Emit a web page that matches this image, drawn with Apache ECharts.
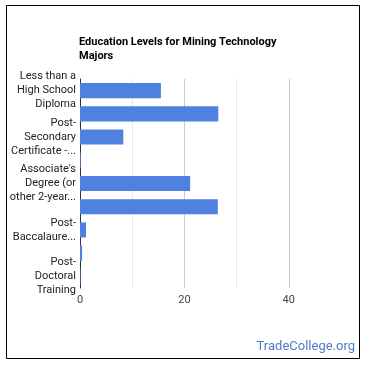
<!DOCTYPE html>
<html>
<head>
<meta charset="utf-8">
<script src="https://cdn.jsdelivr.net/npm/echarts@6/dist/echarts.min.js"></script>
<style>
html,body{margin:0;padding:0;background:#fff;}
#chart{width:370px;height:370px;}
</style>
</head>
<body>
<div id="chart"></div>
<script>
var categories = [
  "Less than a High School Diploma",
  "High School Diploma",
  "Post-Secondary Certificate - awarded for training completed after high school",
  "Some College Courses",
  "Associate's Degree (or other 2-year degree)",
  "Bachelor's Degree",
  "Post-Baccalaureate Certificate",
  "Master's Degree",
  "Post-Doctoral Training"
];
var tickLabels = [
  "Less than a\nHigh School\nDiploma",
  "",
  "Post-\nSecondary\nCertificate -...",
  "",
  "Associate's\nDegree (or\nother 2-year...",
  "",
  "Post-\nBaccalaure...",
  "",
  "Post-\nDoctoral\nTraining"
];
var values = [15.5, 26.5, 8.3, 0.15, 21.1, 26.4, 1.15, 0.4, 0.1];
var xTickLabels = {0: "0", 20: "20", 40: "40"};

var chart = echarts.init(document.getElementById('chart'), null, {renderer: 'canvas'});
chart.setOption({
  animation: false,
  backgroundColor: '#fff',
  title: {
    text: 'Education Levels for Mining Technology\nMajors',
    left: 74,
    top: 30,
    textStyle: {fontFamily: 'Roboto, Arial, sans-serif', fontSize: 11, fontWeight: 'bold', color: '#000', lineHeight: 14}
  },
  graphic: [
    {type: 'rect', shape: {x: 6.5, y: 5.5, width: 353, height: 353}, style: {fill: 'none', stroke: '#000', lineWidth: 1}, z: 100},
    {type: 'text', right: 15, top: 340, style: {text: 'TradeCollege.org', fill: '#4d7cc7', font: '13px Roboto, Arial, sans-serif'}}
  ],
  grid: {left: 80, top: 79, width: 261, height: 209, containLabel: false},
  xAxis: {
    type: 'value', min: 0, max: 50, interval: 10,
    axisLine: {show: false}, axisTick: {show: false},
    axisLabel: {
      margin: 7, color: '#444', fontSize: 11, fontFamily: 'Roboto, Arial, sans-serif',
      formatter: function (v) { return xTickLabels[v] !== undefined ? xTickLabels[v] : ''; }
    },
    splitLine: {show: true, lineStyle: {color: ['#cccccc', '#ebebeb', '#cccccc', '#ebebeb', '#cccccc', 'rgba(0,0,0,0)'], width: 1}}
  },
  yAxis: {
    type: 'category', data: categories, inverse: true,
    axisLine: {show: true, lineStyle: {color: '#333', width: 1}},
    axisTick: {show: false},
    axisLabel: {
      interval: 0, margin: 4, color: '#222', fontSize: 11, lineHeight: 14,
      fontFamily: 'Roboto, Arial, sans-serif', align: 'right',
      formatter: function (v, i) { return tickLabels[i]; }
    },
    splitLine: {show: false}
  },
  series: [{
    type: 'bar', data: values, barCategoryGap: '35%',
    itemStyle: {color: '#4f81e0'}
  }]
});
</script>
</body>
</html>
